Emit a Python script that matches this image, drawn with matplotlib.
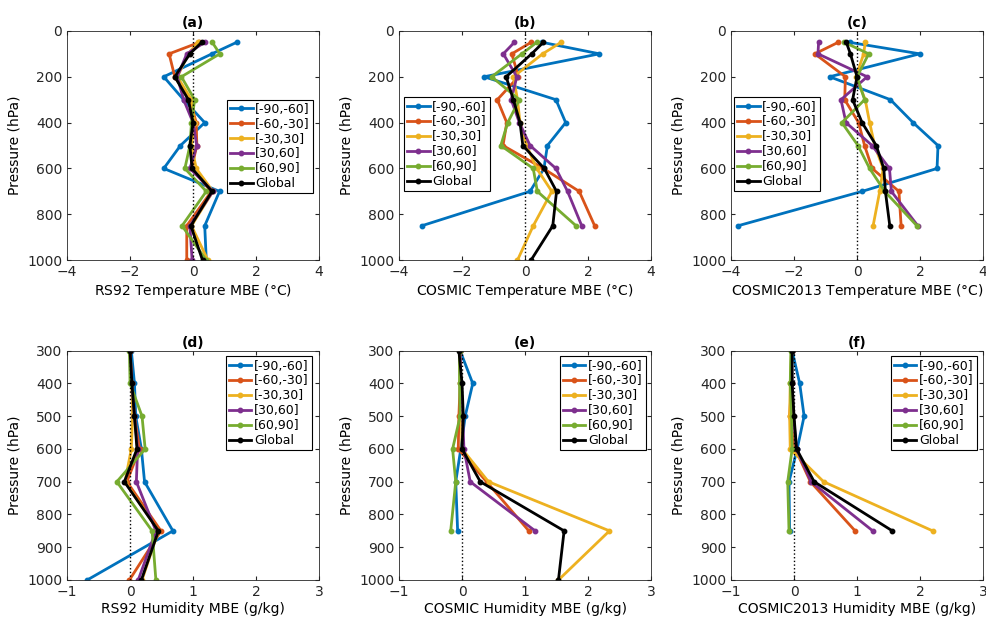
import numpy as np
import matplotlib
matplotlib.use("Agg")
import matplotlib.pyplot as plt

nan = np.nan

# pressure levels (hPa)
p_temp = [50, 100, 200, 300, 400, 500, 600, 700, 850, 1000]
p_hum = [300, 400, 500, 600, 700, 850, 1000]

regions = ['[-90,-60]', '[-60,-30]', '[-30,30]', '[30,60]', '[60,90]', 'Global']
colors = ['#0072BD', '#D95319', '#EDB120', '#7E2F8E', '#77AC30', 'k']

# (a) RS92 temperature MBE
rs92_t = [
    [1.38, 0.6, -0.93, -0.3, 0.37, -0.4, -0.93, 0.84, 0.37, 0.42],
    [0.2, -0.76, -0.58, -0.1, 0.1, 0.12, -0.05, 0.58, -0.2, -0.2],
    [0.15, -0.15, -0.5, -0.05, 0.05, -0.05, 0.1, 0.63, -0.05, 0.47],
    [0.37, -0.2, -0.5, -0.3, 0.0, 0.12, -0.1, 0.63, -0.1, -0.03],
    [0.61, 0.85, -0.37, 0.05, -0.05, -0.1, -0.26, 0.42, -0.35, 0.42],
    [0.27, -0.1, -0.58, -0.15, 0.0, -0.1, -0.03, 0.6, -0.07, 0.3],
]
# (b) COSMIC temperature MBE
cosmic_t = [
    [0.55, 2.36, -1.3, 0.98, 1.29, 0.71, 0.6, 0.16, -3.28, nan],
    [0.19, -0.42, -0.21, -0.88, -0.58, -0.7, 0.58, 1.72, 2.21, nan],
    [1.14, 0.56, -0.37, -0.24, -0.16, 0.05, 0.37, 0.85, 0.26, -0.24],
    [-0.34, -0.69, -0.26, -0.44, -0.18, 0.16, 0.98, 1.35, 1.8, nan],
    [0.37, -0.1, -1.06, -0.18, -0.55, -0.77, 0.26, 0.39, 1.62, nan],
    [0.58, 0.21, -0.6, -0.37, -0.16, -0.07, 0.61, 1.0, 0.88, 0.19],
]
# (c) COSMIC2013 temperature MBE
cosmic13_t = [
    [-0.23, 1.99, -0.87, 1.06, 1.78, 2.57, 2.54, 0.16, -3.78, nan],
    [-0.6, -1.34, -0.37, -0.39, 0.05, 0.24, 0.48, 1.33, 1.4, nan],
    [0.26, 0.21, -0.03, 0.26, 0.4, 0.56, 0.83, 0.72, 0.51, nan],
    [-1.22, -1.24, 0.32, -0.51, -0.35, 0.48, 1.03, 1.09, 1.93, nan],
    [-0.4, 0.37, 0.0, 0.24, -0.48, 0.03, 0.4, 0.88, 1.9, nan],
    [-0.34, -0.21, 0.0, -0.14, 0.16, 0.61, 0.85, 0.9, 1.04, nan],
]
# (d) RS92 humidity MBE
rs92_q = [
    [0.02, 0.07, 0.09, 0.18, 0.23, 0.68, -0.68],
    [0.0, 0.02, 0.07, 0.15, -0.05, 0.49, -0.01],
    [0.0, 0.03, 0.04, 0.02, -0.08, 0.45, 0.19],
    [0.0, 0.03, 0.07, 0.12, 0.1, 0.41, 0.13],
    [-0.01, 0.0, 0.19, 0.24, -0.21, 0.35, 0.41],
    [0.0, 0.03, 0.07, 0.11, -0.09, 0.45, 0.18],
]
# (e) COSMIC humidity MBE
cosmic_q = [
    [-0.03, 0.17, 0.05, -0.02, -0.1, -0.07, nan],
    [-0.04, -0.03, -0.05, -0.06, 0.39, 1.06, nan],
    [-0.03, -0.02, -0.01, 0.0, 0.42, 2.34, 1.53],
    [-0.03, -0.02, 0.01, 0.03, 0.13, 1.16, nan],
    [-0.04, -0.04, -0.03, -0.15, -0.1, -0.18, nan],
    [-0.05, 0.0, 0.02, 0.0, 0.29, 1.62, 1.53],
]
# (f) COSMIC2013 humidity MBE
cosmic13_q = [
    [-0.03, 0.09, 0.16, 0.05, -0.08, -0.07, nan],
    [-0.04, -0.04, -0.07, 0.02, 0.26, 0.97, nan],
    [-0.04, -0.06, -0.07, -0.06, 0.47, 2.2, nan],
    [-0.04, -0.03, -0.01, 0.04, 0.27, 1.25, nan],
    [-0.05, -0.06, -0.04, -0.03, -0.1, -0.08, nan],
    [-0.03, -0.03, 0.0, 0.04, 0.32, 1.56, nan],
]

panels = [
    ('(a)', rs92_t, p_temp, 'RS92 Temperature MBE ($\\degree$C)', 'upper right', (0.975, 0.70)),
    ('(b)', cosmic_t, p_temp, 'COSMIC Temperature MBE ($\\degree$C)', 'upper left', (0.02, 0.71)),
    ('(c)', cosmic13_t, p_temp, 'COSMIC2013 Temperature MBE ($\\degree$C)', 'upper left', (0.012, 0.71)),
    ('(d)', rs92_q, p_hum, 'RS92 Humidity MBE (g/kg)', 'upper right', (0.97, 0.975)),
    ('(e)', cosmic_q, p_hum, 'COSMIC Humidity MBE (g/kg)', 'upper right', (0.978, 0.975)),
    ('(f)', cosmic13_q, p_hum, 'COSMIC2013 Humidity MBE (g/kg)', 'upper right', (0.975, 0.975)),
]

fig = plt.figure(figsize=(9.86, 6.18), dpi=100)
lefts = [0.068, 0.4047, 0.7414]
bottoms = [0.579, 0.0615]
w, h = 0.2556, 0.371

for k, (title, data, lev, xlab, loc, anchor) in enumerate(panels):
    ax = fig.add_axes([lefts[k % 3], bottoms[k // 3], w, h])
    for vals, c, name in zip(data, colors, regions):
        ax.plot(vals, lev, '-', color=c, lw=2, marker='o', ms=3.2, label=name)
    ax.axvline(0, color='k', ls=':', lw=1)
    if k < 3:
        ax.set_xlim(-4, 4)
        ax.set_ylim(1000, 0)
        ax.set_yticks(range(0, 1001, 200))
    else:
        ax.set_xlim(-1, 3)
        ax.set_ylim(1000, 300)
        ax.set_yticks(range(300, 1001, 100))
    ax.set_title(title, fontsize=10, fontweight='bold', pad=3)
    ax.set_xlabel(xlab, fontsize=10, labelpad=2)
    ax.set_ylabel('Pressure (hPa)', fontsize=10)
    ax.tick_params(direction='in', top=True, right=True, labelsize=10, length=3,
                   colors='#262626')
    for s in ax.spines.values():
        s.set_color('#262626')
        s.set_linewidth(0.6)
    leg = ax.legend(loc=loc, bbox_to_anchor=anchor, fontsize=9, handlelength=1.8,
                    handletextpad=0.2, borderpad=0.25, labelspacing=0.15,
                    borderaxespad=0, fancybox=False, framealpha=1)
    leg.get_frame().set_edgecolor('k')
    leg.get_frame().set_linewidth(0.8)

fig.savefig('out.png', dpi=100)
